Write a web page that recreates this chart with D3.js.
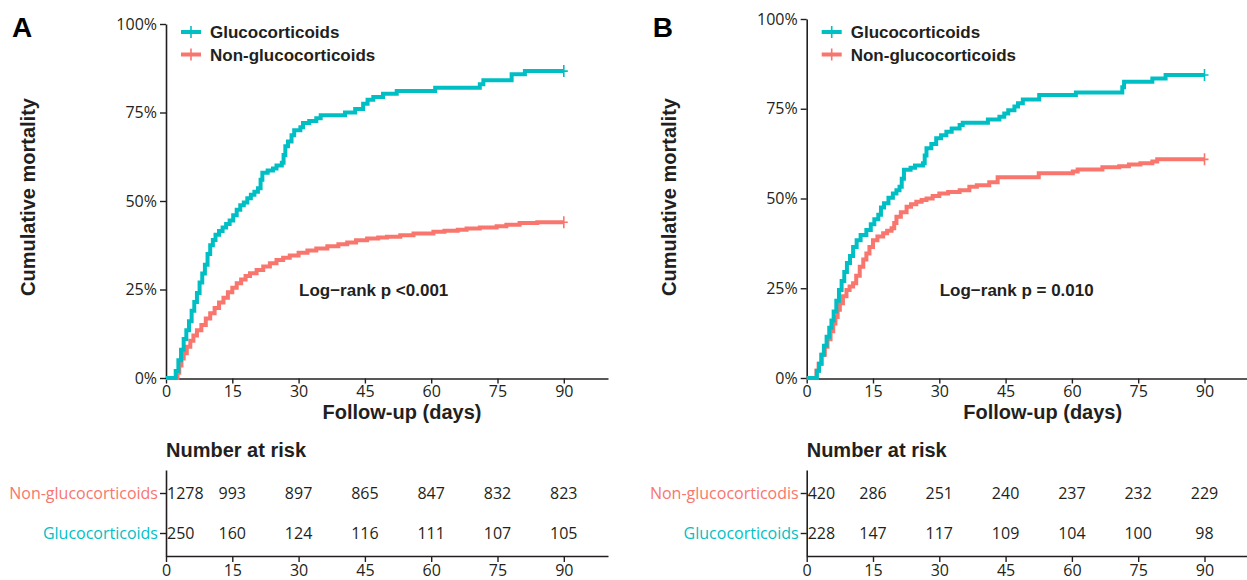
<!DOCTYPE html>
<html>
<head>
<meta charset="utf-8">
<script src="https://cdn.jsdelivr.net/npm/d3@7"></script>
<style>
  body { margin: 0; background: #fff; }
  svg { display: block; }
</style>
</head>
<body>
<script>
// tick values
var dayTicks = [0, 15, 30, 45, 60, 75, 90];
var pctTicks = [0, 25, 50, 75, 100];

var legendGroups = ["Glucocorticoids", "Non-glucocorticoids"];
var riskRowsA = ["Non-glucocorticoids", "Glucocorticoids"];
var riskRowsB = ["Non-glucocorticodis", "Glucocorticoids"];

// number at risk
var riskNonA = [1278, 993, 897, 865, 847, 832, 823];
var riskGlucoA = [250, 160, 124, 116, 111, 107, 105];
var riskNonB = [420, 286, 251, 240, 237, 232, 229];
var riskGlucoB = [228, 147, 117, 109, 104, 100, 98];

// KM cumulative mortality [day, %]
var kmGlucoA = [[0,0],[1.8,0],[2.2,2],[2.8,5],[3.4,8],[4,11],[4.6,13.5],[5.2,16],[5.8,19],[6.4,21.5],[7,24],[7.6,27],[8.2,29.5],[8.8,32],[9.4,35],[10,37.5],[10.6,39],[11.2,40.5],[12,41.5],[12.8,42.5],[13.6,43.5],[14.4,44.5],[15.2,46],[16,47.5],[16.8,48.8],[17.6,49.6],[18.4,50.8],[19.2,51.8],[20,52.6],[20.8,53.6],[21.4,56],[21.8,58],[23,58.6],[24.2,59.2],[25,60],[26.2,60.8],[26.6,63],[27,65.5],[27.6,66.8],[28.4,68.6],[29,70],[30.4,70.8],[31,72],[32.4,72.6],[34,73.4],[35,74.2],[40.5,75],[42.8,76],[44.6,77.5],[45.6,78.6],[46.9,79.4],[49.1,80.3],[52.2,81.1],[60.9,82],[71,83],[71.8,84.1],[78.2,85.8],[81.2,86.7],[90,86.7]];
var kmNonA = [[0,0],[2.2,0],[2.6,1.5],[3,3.5],[3.5,5.5],[4,7],[4.7,8.8],[5.5,10.5],[6.2,12],[7,13.5],[8,15],[9,16.8],[10,18.3],[11,19.8],[12,21.3],[13,22.7],[14,24.2],[15,25.5],[16,26.8],[17,27.8],[18,28.8],[19,29.6],[20.5,30.5],[22,31.5],[23.5,32.4],[25,33.3],[26.5,34],[28,34.6],[30,35.4],[32,36],[34,36.6],[36.5,37.2],[39,37.8],[41,38.3],[43,38.9],[45.5,39.4],[48,39.7],[50,39.9],[53,40.3],[56,40.8],[60.5,41.3],[63,41.6],[66,41.9],[68,42.2],[71,42.5],[74.8,42.9],[77,43.3],[80,43.8],[84,44],[90,44]];
var kmGlucoB = [[0,0],[1.9,0],[2.3,2],[2.8,4],[3.3,6.5],[3.9,9],[4.5,11.5],[5.1,14],[5.6,16],[6.1,18.5],[6.7,21.5],[7.3,24.5],[7.9,27],[8.5,29.5],[9.1,32],[9.8,34],[10.5,36.5],[11.3,38.4],[12.2,39.8],[13.5,41.2],[14.5,42.8],[15.3,44.2],[16.2,45.5],[16.8,47.5],[17.5,48.7],[18.5,50.2],[19.5,51.4],[20.3,52.3],[21,53.3],[21.5,55.5],[22,58],[23.5,58.6],[24.5,59.2],[26.3,59.8],[26.7,62],[27.1,64],[28.2,65.2],[29.3,66.8],[30.4,67.6],[31.6,68.6],[32.8,69.5],[34.6,70.5],[35.3,71.1],[41,72],[43.6,72.8],[44.7,73.7],[45.6,74.6],[47,75.6],[47.8,76.5],[48.9,77.6],[52.6,78.8],[60.9,79.5],[71.4,81],[71.8,82.5],[78.2,83.4],[81.2,84.4],[90,84.4]];
var kmNonB = [[0,0],[1.8,0],[2.2,2],[2.7,4],[3.4,6.5],[4.1,8.7],[4.7,10.8],[5.4,13],[6,15.2],[6.5,17],[7,19],[7.5,20.8],[8.2,22.8],[9,24.5],[9.7,25.5],[10.5,26.4],[11.2,28.5],[12,31],[12.8,33],[13.5,34.7],[14.2,36.5],[15,38.4],[16,39.4],[17.3,40.3],[18.2,41],[19.2,41.7],[19.8,43.2],[20.3,44.9],[21.3,46.2],[22.6,47.7],[23.6,48.4],[24.8,49.1],[26,49.6],[27.1,50],[28.5,50.7],[30,51.4],[32,51.8],[34.6,52.3],[36.8,53.3],[38.5,53.7],[41.3,54.5],[43.2,55.9],[52.5,57],[60.2,57.5],[61.3,58.1],[66.9,58.7],[70.7,59],[72.9,59.5],[75.5,59.8],[78.2,60.3],[79.3,60.9],[90,60.9]];

var teal = "#00BFC4", red = "#F8766D", ink = "#231f20";
var boldFont = "'Liberation Sans', Arial, sans-serif";
var tickFont = "'Open Sans', sans-serif";

var W = 1247, H = 580;
var svg = d3.select("body").append("svg").attr("width", W).attr("height", H);

function panel(o) {
  var g = svg.append("g");

  var x = d3.scaleLinear().domain([0, 100]).range([o.x0, o.x0 + 442]);
  var y = d3.scaleLinear().domain([0, 100]).range([378, o.yTop]);

  // panel letter
  g.append("text").attr("x", o.x0 - 154).attr("y", 37)
    .attr("font-family", boldFont).attr("font-weight", "bold").attr("font-size", 28)
    .attr("fill", "#000").text(o.letter);

  // axes
  var ya = g.append("g").attr("transform", "translate(" + o.x0 + ",0)")
    .call(d3.axisLeft(y).tickValues(pctTicks).tickFormat(function(d) { return d + "%"; })
      .tickSize(6).tickPadding(3).tickSizeOuter(0));
  var xa = g.append("g").attr("transform", "translate(0,378.5)")
    .call(d3.axisBottom(x).tickValues(dayTicks).tickSize(5).tickPadding(2).tickSizeOuter(0));
  [ya, xa].forEach(function(a) {
    a.select(".domain").attr("stroke", ink).attr("stroke-width", 1.6);
    a.selectAll(".tick line").attr("stroke", ink).attr("stroke-width", 1.4);
    a.selectAll(".tick text").attr("font-family", tickFont).attr("font-size", 16).attr("fill", ink);
  });

  // curves
  var line = d3.line().x(function(d) { return x(d[0]); }).y(function(d) { return y(d[1]); })
    .curve(d3.curveStepAfter);
  [[o.non, red], [o.gluco, teal]].forEach(function(s) {
    g.append("path").datum(s[0]).attr("d", line).attr("fill", "none")
      .attr("stroke", s[1]).attr("stroke-width", 4);
    var last = s[0][s[0].length - 1];
    var cx = x(last[0]), cy = y(last[1]);
    g.append("path").attr("d", "M" + (cx - 2) + "," + cy + "H" + (cx + 4) + "M" + cx + "," + (cy - 6) + "V" + (cy + 6))
      .attr("stroke", s[1]).attr("stroke-width", 1.6).attr("fill", "none");
  });

  // legend
  [[legendGroups[0], teal, 32], [legendGroups[1], red, 54.5]].forEach(function(l) {
    var lx = o.x0 + 15;
    g.append("line").attr("x1", lx).attr("x2", lx + 20).attr("y1", l[2]).attr("y2", l[2])
      .attr("stroke", l[1]).attr("stroke-width", 4);
    g.append("line").attr("x1", lx + 10).attr("x2", lx + 10).attr("y1", l[2] - 6).attr("y2", l[2] + 6)
      .attr("stroke", l[1]).attr("stroke-width", 1.6);
    g.append("text").attr("x", lx + 29).attr("y", l[2] + 6)
      .attr("font-family", boldFont).attr("font-weight", "bold").attr("font-size", 17)
      .attr("fill", ink).text(l[0]);
  });

  // log-rank
  g.append("text").attr("x", o.x0 + o.pX).attr("y", 296)
    .attr("font-family", boldFont).attr("font-weight", "bold").attr("font-size", 17)
    .attr("fill", ink).text(o.pText);

  // axis titles
  g.append("text").attr("transform", "translate(" + (o.x0 - 138) + ",197) rotate(-90)")
    .attr("text-anchor", "middle").attr("dominant-baseline", "central")
    .attr("font-family", boldFont).attr("font-weight", "bold").attr("font-size", 20)
    .attr("fill", ink).text("Cumulative mortality");
  g.append("text").attr("x", o.x0 + 236).attr("y", 419).attr("text-anchor", "middle")
    .attr("font-family", boldFont).attr("font-weight", "bold").attr("font-size", 20)
    .attr("fill", ink).text("Follow-up (days)");

  // number at risk table
  g.append("text").attr("x", o.x0).attr("y", 457)
    .attr("font-family", boldFont).attr("font-weight", "bold").attr("font-size", 20)
    .attr("fill", ink).text("Number at risk");

  var rows = d3.scalePoint().domain(o.rows).range([470, 556]).padding(0.575);
  var ra = g.append("g").attr("transform", "translate(" + o.x0 + ",0)")
    .call(d3.axisLeft(rows).tickSize(6).tickPadding(2).tickSizeOuter(0));
  var rx = g.append("g").attr("transform", "translate(0,556)")
    .call(d3.axisBottom(x).tickValues(dayTicks).tickSize(6).tickPadding(3).tickSizeOuter(0));
  [ra, rx].forEach(function(a) {
    a.select(".domain").attr("stroke", ink).attr("stroke-width", 1.6);
    a.selectAll(".tick line").attr("stroke", ink).attr("stroke-width", 1.4);
    a.selectAll(".tick text").attr("font-family", tickFont).attr("font-size", 16).attr("fill", ink);
  });
  ra.selectAll(".tick text").attr("fill", function(d, i) { return i === 0 ? red : teal; });

  [[o.rows[0], o.riskNon], [o.rows[1], o.riskGluco]].forEach(function(r) {
    g.selectAll(null).data(r[1]).enter().append("text")
      .attr("x", function(d, i) { return i === 0 ? x(dayTicks[i]) + 1 : x(dayTicks[i]); })
      .attr("y", rows(r[0]))
      .attr("dy", "0.35em")
      .attr("text-anchor", function(d, i) { return i === 0 ? "start" : "middle"; })
      .attr("font-family", tickFont).attr("font-size", 16).attr("fill", ink)
      .text(function(d) { return d; });
  });
}

panel({ letter: "A", x0: 166, yTop: 24, gluco: kmGlucoA, non: kmNonA, pX: 133,
  pText: "Log\u2212rank p <0.001", rows: riskRowsA, riskNon: riskNonA, riskGluco: riskGlucoA });
panel({ letter: "B", x0: 806.7, yTop: 19, gluco: kmGlucoB, non: kmNonB, pX: 133,
  pText: "Log\u2212rank p = 0.010", rows: riskRowsB, riskNon: riskNonB, riskGluco: riskGlucoB });
</script>
</body>
</html>
